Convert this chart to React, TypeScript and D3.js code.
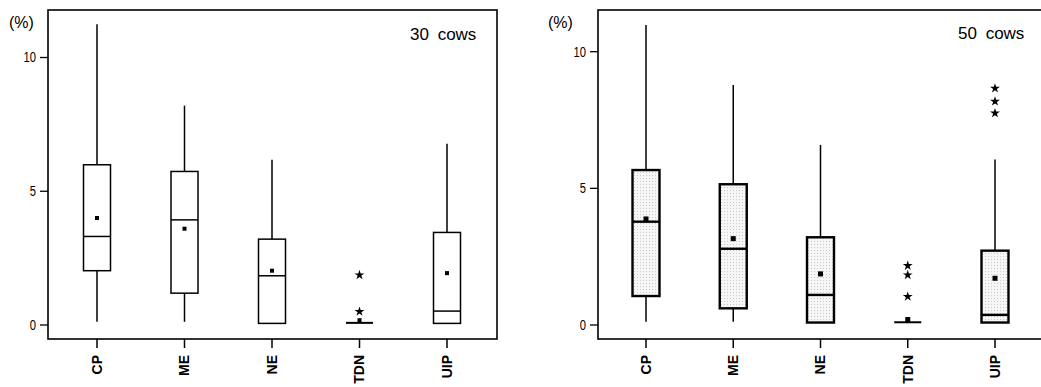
import React from "react";
import * as d3 from "d3";

const categories = ["CP", "ME", "NE", "TDN", "UIP"];
const yTicks = [0, 5, 10];

// 30 cows
const lo30 = [0.12, 0.12, 0.06, 0.08, 0.06];
const q1_30 = [2.03, 1.19, 0.06, 0.08, 0.06];
const med30 = [3.31, 3.93, 1.84, 0.08, 0.52];
const q3_30 = [5.99, 5.74, 3.21, 0.08, 3.46];
const hi30 = [11.24, 8.2, 6.18, 0.08, 6.78];
const mean30 = [4.0, 3.6, 2.03, 0.18, 1.94];
const out30 = [[], [], [], [1.87, 0.5], []];

// 50 cows
const lo50 = [0.12, 0.12, 0.09, 0.1, 0.09];
const q1_50 = [1.06, 0.61, 0.09, 0.1, 0.09];
const med50 = [3.78, 2.79, 1.1, 0.1, 0.37];
const q3_50 = [5.67, 5.15, 3.21, 0.1, 2.72];
const hi50 = [10.98, 8.78, 6.59, 0.1, 6.06];
const mean50 = [3.88, 3.16, 1.87, 0.2, 1.71];
const out50 = [[], [], [], [2.17, 1.83, 1.04], [8.66, 8.18, 7.75]];

type PanelProps = {
  frame: { l: number; t: number; r: number; b: number };
  xRange: [number, number];
  yRange: [number, number];
  lo: number[]; q1: number[]; med: number[]; q3: number[]; hi: number[];
  mean: number[]; outs: number[][];
  label: string; labelX: number; labelY: number;
  pctX: number;
  shaded: boolean;
};

const star = d3.symbol().type(d3.symbolStar).size(30)();

function Panel(p: PanelProps) {
  const x = d3.scalePoint<string>().domain(categories).range(p.xRange);
  const y = d3.scaleLinear().domain([0, 10]).range(p.yRange);
  const bw = 27;
  const boxStroke = p.shaded ? 2.4 : 1.5;
  const font = "'Liberation Sans', Arial, sans-serif";
  return (
    <g>
      <rect x={p.frame.l} y={p.frame.t} width={p.frame.r - p.frame.l} height={p.frame.b - p.frame.t}
        fill="none" stroke="#000" strokeWidth={1.6} />
      {yTicks.map((t) => (
        <g key={t}>
          <line x1={p.frame.l - 8} x2={p.frame.l} y1={y(t)} y2={y(t)} stroke="#000" strokeWidth={1.3} />
          <text transform={`translate(${p.frame.l - 12},${y(t)}) scale(0.8,1)`} dy="0.35em" textAnchor="end"
            fontFamily={font} fontSize={14}>{t}</text>
        </g>
      ))}
      <text x={p.pctX} y={22} dy="0.35em" fontFamily={font} fontSize={16}>(%)</text>
      <text x={p.labelX} y={p.labelY} fontFamily={font} fontSize={17} style={{ wordSpacing: "4px" }}>{p.label}</text>
      {categories.map((c, i) => {
        const cx = x(c)!;
        const flat = p.q1[i] === p.q3[i];
        return (
          <g key={c}>
            <line x1={cx} x2={cx} y1={p.frame.b} y2={p.frame.b + 9} stroke="#000" strokeWidth={1.5} />
            <text transform={`translate(${cx},${p.frame.b + 16}) rotate(-90)`} textAnchor="end" dy="0.35em"
              fontFamily={font} fontWeight="bold" fontSize={14}>{c}</text>
            {!flat && (
              <>
                <line x1={cx} x2={cx} y1={y(p.hi[i])} y2={y(p.q3[i])} stroke="#000" strokeWidth={1.5} />
                <line x1={cx} x2={cx} y1={y(p.q1[i])} y2={y(p.lo[i])} stroke="#000" strokeWidth={1.5} />
                <rect x={cx - bw / 2} y={y(p.q3[i])} width={bw} height={y(p.q1[i]) - y(p.q3[i])}
                  fill={p.shaded ? "url(#stip)" : "#fff"} stroke="#000" strokeWidth={boxStroke} />
                <line x1={cx - bw / 2} x2={cx + bw / 2} y1={y(p.med[i])} y2={y(p.med[i])} stroke="#000" strokeWidth={boxStroke} />
              </>
            )}
            {flat && (
              <line x1={cx - bw / 2} x2={cx + bw / 2} y1={y(p.med[i])} y2={y(p.med[i])} stroke="#000" strokeWidth={2} />
            )}
            <rect x={cx - (p.shaded ? 2.5 : 2)} y={y(p.mean[i]) - (p.shaded ? 2.5 : 2)}
              width={p.shaded ? 5 : 4} height={p.shaded ? 5 : 4} fill="#000" />
            {p.outs[i].map((o, j) => (
              <path key={j} d={star} transform={`translate(${cx},${y(o)})`} fill="#000" />
            ))}
          </g>
        );
      })}
    </g>
  );
}

export default function App() {
  return (
    <svg width={1041} height={387} style={{ position: "absolute", left: 0, top: 0, background: "#fff" }}>
      <defs>
        <pattern id="stip" width="3" height="3" patternUnits="userSpaceOnUse">
          <rect width="3" height="3" fill="#f6f6f6" />
          <rect x="1" y="1" width="1" height="1" fill="#c8c8c8" />
        </pattern>
      </defs>
      <rect width={1041} height={387} fill="#fff" />
      <Panel frame={{ l: 48, t: 10, r: 497, b: 339 }} xRange={[97, 447]} yRange={[325, 57.5]}
        lo={lo30} q1={q1_30} med={med30} q3={q3_30} hi={hi30} mean={mean30} outs={out30}
        label="30 cows" labelX={410} labelY={40} pctX={9} shaded={false} />
      <Panel frame={{ l: 598, t: 10, r: 1047, b: 339 }} xRange={[646, 995]} yRange={[325, 51.7]}
        lo={lo50} q1={q1_50} med={med50} q3={q3_50} hi={hi50} mean={mean50} outs={out50}
        label="50 cows" labelX={958} labelY={39} pctX={548} shaded={true} />
    </svg>
  );
}
